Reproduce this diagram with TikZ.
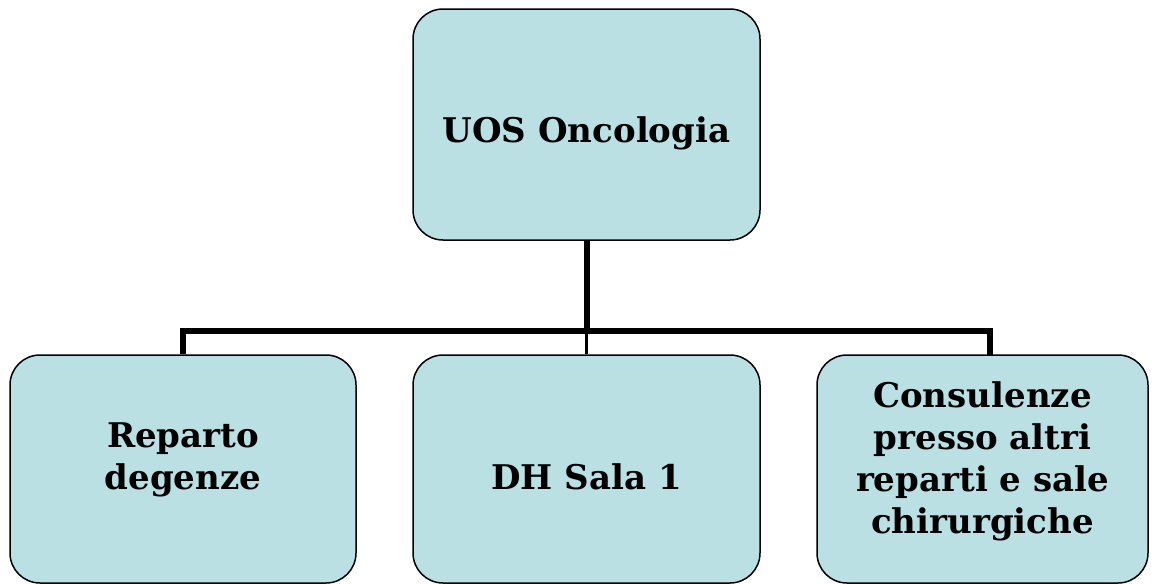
\documentclass[tikz,border=0pt]{standalone}
\usepackage{fontspec}
\setmainfont{DejaVu Serif}
\definecolor{boxfill}{RGB}{186,224,227}
\begin{document}
\begin{tikzpicture}[x=1pt,y=-1pt,
  orgbox/.style={draw=black,line width=1.5pt,fill=boxfill,rounded corners=30pt,
    minimum width=#1,inner sep=0pt},
  orgtext/.style={align=center,font=\bfseries\fontsize{34}{42}\selectfont,inner sep=0pt},
  conn/.style={line width=6pt,line cap=butt}]
\useasboundingbox (0,0) rectangle (1152,584);
\node[orgbox=347pt,minimum height=231pt] (top) at (586.5,124.5) {};
\node[orgbox=346pt,minimum height=228pt] (a) at (183,469) {};
\node[orgbox=347pt,minimum height=228pt] (b) at (586.5,469) {};
\node[orgbox=331pt,minimum height=228pt] (c) at (982.5,469) {};
\node[orgtext] (ttop) at ([yshift=-8.5pt]top.center) {UOS Oncologia};
\node[orgtext] (ta) at ([yshift=9pt]a.center) {Reparto\\degenze};
\node[orgtext] (tb) at ([yshift=-8pt]b.center) {DH Sala 1};
\node[orgtext] (tc) at ([yshift=8pt]c.center) {Consulenze\\presso altri\\reparti e sale\\chirurgiche};
\coordinate (j) at (586.5,331);
\draw[conn] (top.south) -- (j);
\draw[conn] (a.north) -- (a.north |- j) -- (990,331) -- (990,355);
\draw[line width=3pt] (j) -- (b.north);
\end{tikzpicture}
\end{document}
